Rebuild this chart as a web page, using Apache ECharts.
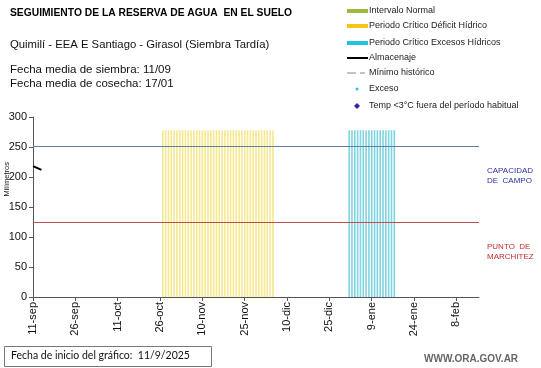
<!DOCTYPE html>
<html><head><meta charset="utf-8">
<script src="https://cdn.jsdelivr.net/npm/echarts@6/dist/echarts.min.js"></script>
<style>html,body{margin:0;padding:0;background:#fff}#c{width:541px;height:368px}</style>
</head><body><div id="c"></div>
<script>
// ---- data ----
const startDate = [2025, 8, 11]; // 11-sep-2025
const nDays = 159;
const monthNames = ['ene','feb','mar','abr','may','jun','jul','ago','sep','oct','nov','dic'];
const almacenaje = [218, 216, 214, 212];          // first days only
const deficitStart = 46, deficitEnd = 85, deficitHeight = 278;   // Periodo Crítico Déficit Hídrico
const excesoStart = 112, excesoEnd = 128, excesoHeight = 278;    // Periodo Crítico Excesos Hídricos
const capacidadCampo = 252;
const puntoMarchitez = 124.5;
const yTicks = [0, 50, 100, 150, 200, 250, 300];

// ---- build ----
const categories = [];
for (let i = 0; i < nDays; i++) {
  const d = new Date(startDate[0], startDate[1], startDate[2] + i);
  categories.push(d.getDate() + '-' + monthNames[d.getMonth()]);
}
const deficit = categories.map((c, i) => (i >= deficitStart && i <= deficitEnd) ? deficitHeight : null);
const exceso = categories.map((c, i) => (i >= excesoStart && i <= excesoEnd) ? excesoHeight : null);

const chart = echarts.init(document.getElementById('c'));
const F = 'Liberation Sans, Arial, sans-serif';
const legendRows = [
  {y: 11, type: 'bar', color: '#9bbb3b', text: 'Intervalo Normal'},
  {y: 26, type: 'bar', color: '#f5c518', text: 'Periodo Crítico Déficit Hídrico'},
  {y: 43, type: 'bar', color: '#22c3dd', text: 'Periodo Crítico Excesos Hídricos'},
  {y: 58, type: 'line', color: '#000', text: 'Almacenaje'},
  {y: 73, type: 'dash', color: '#888', text: 'Mínimo histórico'},
  {y: 89, type: 'dot', color: '#33c3e0', text: 'Exceso'},
  {y: 106, type: 'diamond', color: '#2a2aa8', text: 'Temp <3°C fuera del período habitual'}
];
const graphics = [];
legendRows.forEach(r => {
  if (r.type === 'bar') graphics.push({type: 'rect', shape: {x: 347, y: r.y - 2, width: 21, height: 4}, style: {fill: r.color}});
  if (r.type === 'line') graphics.push({type: 'line', shape: {x1: 347, y1: r.y, x2: 368, y2: r.y}, style: {stroke: r.color, lineWidth: 2}});
  if (r.type === 'dash') {
    graphics.push({type: 'line', shape: {x1: 347, y1: r.y, x2: 356, y2: r.y}, style: {stroke: r.color, lineWidth: 1}});
    graphics.push({type: 'line', shape: {x1: 360, y1: r.y, x2: 365, y2: r.y}, style: {stroke: r.color, lineWidth: 1}});
  }
  if (r.type === 'dot') graphics.push({type: 'circle', shape: {cx: 357, cy: r.y, r: 1.5}, style: {fill: r.color}});
  if (r.type === 'diamond') graphics.push({type: 'polygon', shape: {points: [[357, r.y - 3], [360, r.y], [357, r.y + 3], [354, r.y]]}, style: {fill: r.color}});
  graphics.push({type: 'text', left: (r.type === 'dot' || r.type === 'diamond') ? 369 : 369, top: r.y - 5,
    style: {text: r.text, fill: '#222', font: '9px ' + F}});
});
graphics.push(
  {type: 'text', left: 10, top: 8, style: {text: 'SEGUIMIENTO DE LA RESERVA DE AGUA  EN EL SUELO', fill: '#000', font: 'bold 10.3px ' + F}},
  {type: 'text', left: 10, top: 39, style: {text: 'Quimilí - EEA E Santiago - Girasol (Siembra Tardía)', fill: '#111', font: '11.3px ' + F}},
  {type: 'text', left: 10, top: 64, style: {text: 'Fecha media de siembra: 11/09', fill: '#111', font: '11.5px ' + F}},
  {type: 'text', left: 10, top: 78, style: {text: 'Fecha media de cosecha: 17/01', fill: '#111', font: '11.5px ' + F}},
  {type: 'text', left: 487, top: 166, style: {text: 'CAPACIDAD\nDE  CAMPO', fill: '#2e2ea0', font: '8px ' + F, lineHeight: 10}},
  {type: 'text', left: 487, top: 242, style: {text: 'PUNTO  DE\nMARCHITEZ', fill: '#c0302e', font: '8px ' + F, lineHeight: 10}},
  {type: 'rect', shape: {x: 4.5, y: 346.5, width: 207, height: 20}, style: {fill: '#fff', stroke: '#777', lineWidth: 1}},
  {type: 'text', left: 11, top: 350, style: {text: 'Fecha de inicio del gráfico:  11/9/2025', fill: '#111', font: '10.5px Lato, sans-serif'}},
  {type: 'text', left: 424, top: 354, style: {text: 'WWW.ORA.GOV.AR', fill: '#666', font: 'bold 10px ' + F}},
  {type: 'text', left: 3, top: 162, rotation: Math.PI / 2, originX: 0, originY: 0,
   style: {text: 'Milímetros', fill: '#111', font: '7.5px ' + F}}
);

chart.setOption({
  animation: false,
  grid: {left: 33, right: 62, top: 117, bottom: 71},
  xAxis: {
    type: 'category', data: categories, boundaryGap: false,
    axisLine: {lineStyle: {color: '#555'}},
    axisTick: {interval: 14, length: 4, lineStyle: {color: '#555'}},
    axisLabel: {interval: 14, rotate: 90, fontSize: 11, color: '#111', fontFamily: F, margin: 5}
  },
  yAxis: {
    type: 'value', min: yTicks[0], max: yTicks[yTicks.length - 1], interval: 50,
    axisLine: {show: true, lineStyle: {color: '#555'}},
    axisTick: {show: true, length: 4, lineStyle: {color: '#555'}},
    splitLine: {show: false},
    axisLabel: {fontSize: 11, color: '#111', fontFamily: F, margin: 6}
  },
  graphic: graphics,
  series: [
    {type: 'bar', data: deficit, barWidth: 1.6, barGap: '-100%', itemStyle: {color: '#f6e88e'}, silent: true},
    {type: 'bar', data: exceso, barWidth: 1.6, barGap: '-100%', itemStyle: {color: '#7fd4df'}, silent: true},
    {type: 'line', data: almacenaje, symbol: 'none', lineStyle: {color: '#000', width: 2},
     markLine: {symbol: 'none', silent: true, label: {show: false},
       data: [
         {yAxis: capacidadCampo, lineStyle: {color: '#5f7fa6', width: 1, type: 'solid'}},
         {yAxis: puntoMarchitez, lineStyle: {color: '#c0504d', width: 1, type: 'solid'}}
       ]}}
  ]
});
</script></body></html>
